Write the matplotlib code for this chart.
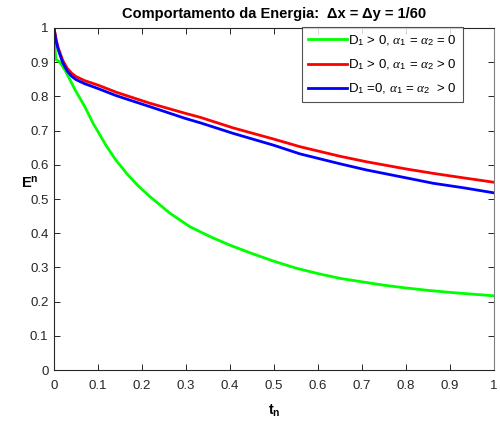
import matplotlib
matplotlib.use("Agg")
import matplotlib.pyplot as plt
import numpy as np

plt.rcParams["font.family"] = ["Liberation Sans", "DejaVu Sans"]
plt.rcParams["mathtext.fontset"] = "custom"
plt.rcParams["mathtext.rm"] = "Liberation Sans"
plt.rcParams["mathtext.it"] = "Liberation Serif:italic"
plt.rcParams["mathtext.bf"] = "Liberation Sans:bold"

# energy curves E^n(t_n)
t_green = [0, 0.004, 0.012, 0.025, 0.048, 0.07, 0.089, 0.12, 0.14, 0.165, 0.19,
           0.218, 0.264, 0.309, 0.355, 0.4, 0.445, 0.5, 0.55, 0.6, 0.65, 0.7,
           0.75, 0.8, 0.85, 0.9, 0.95, 1.0]
e_green = [1.0, 0.908, 0.902, 0.877, 0.819, 0.77, 0.721, 0.653, 0.615, 0.575, 0.54,
           0.507, 0.458, 0.419, 0.39, 0.365, 0.343, 0.318, 0.298, 0.282, 0.268, 0.258,
           0.248, 0.240, 0.233, 0.227, 0.222, 0.217]

t_rb = [0, 0.005, 0.01, 0.02, 0.03, 0.04, 0.05, 0.07, 0.1, 0.142, 0.218, 0.3,
        0.332, 0.407, 0.5, 0.559, 0.65, 0.71, 0.8, 0.862, 0.93, 1.0]
e_red = [1.0, 0.965, 0.94, 0.905, 0.882, 0.868, 0.858, 0.846, 0.833, 0.812, 0.78,
         0.75, 0.739, 0.708, 0.675, 0.653, 0.625, 0.609, 0.588, 0.575, 0.562, 0.549]
e_blue = [1.0, 0.96, 0.935, 0.898, 0.874, 0.859, 0.849, 0.837, 0.823, 0.802, 0.77,
          0.735, 0.723, 0.692, 0.657, 0.632, 0.603, 0.585, 0.562, 0.546, 0.533, 0.518]

labels = [r"D$_1$ > 0, $\alpha_1$ = $\alpha_2$ = 0",
          r"D$_1$ > 0, $\alpha_1$ = $\alpha_2$ > 0",
          r"D$_1$ =0, $\alpha_1$ = $\alpha_2$  > 0"]

ticks = np.round(np.arange(0, 1.01, 0.1), 1)
tick_labels = ["0"] + [f"{v:.1f}" for v in ticks[1:-1]] + ["1"]

fig = plt.figure(figsize=(5.0, 4.21), dpi=100)
ax = fig.add_axes([0.108, 0.121, 0.88, 0.8125])

ax.plot(t_green, e_green, color="#00ff00", lw=2, label=labels[0])
ax.plot(t_rb, e_red, color="#ff0000", lw=2, label=labels[1])
ax.plot(t_rb, e_blue, color="#0000ff", lw=2, label=labels[2])

ax.set_xlim(0, 1)
ax.set_ylim(0, 1)
ax.set_xticks(ticks)
ax.set_xticklabels(tick_labels)
ax.set_yticks(ticks)
ax.set_yticklabels(tick_labels)
ax.tick_params(direction="in", top=True, right=True, length=4, width=0.7,
               labelsize=9.5, colors="#262626")
ax.tick_params(axis="x", pad=7)
ax.tick_params(axis="y", pad=4)
for s in ax.spines.values():
    s.set_color("#262626")
    s.set_linewidth(0.8)
ax.spines["right"].set_color("#808080")

ax.set_title("Comportamento da Energia:  Δx = Δy = 1/60", fontsize=10.5,
             fontweight="bold", pad=7)
ax.set_xlabel(r"t$_{\mathbf{n}}$", fontsize=10.5, fontweight="bold")
ax.xaxis.set_label_coords(0.5, -0.095)
ax.set_ylabel(r"E$^{\mathbf{n}}$", fontsize=10.5, fontweight="bold", rotation=0,
              va="center", ha="center")
ax.yaxis.set_label_coords(-0.055, 0.543)

leg = ax.legend(loc="upper right", bbox_to_anchor=(0.93, 1.003), fontsize=9.5,
                frameon=True, fancybox=False, borderpad=0.45, handlelength=3.0,
                handletextpad=0.1, labelspacing=0.75, borderaxespad=0)
leg.get_frame().set_edgecolor("#262626")
leg.get_frame().set_linewidth(0.8)

fig.savefig("out.png", dpi=100)
